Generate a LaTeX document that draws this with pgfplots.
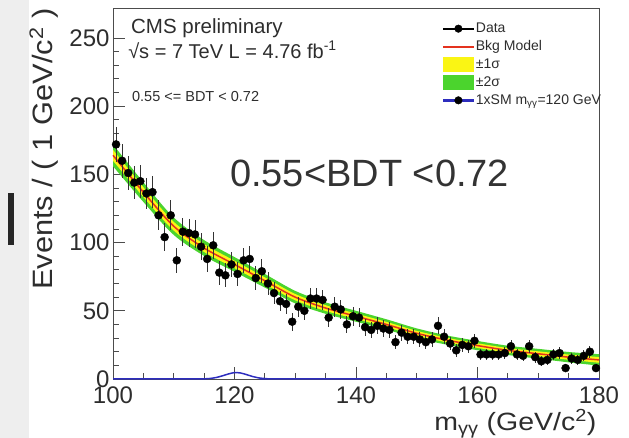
\documentclass[border=0pt]{standalone}
\usepackage{pgfplots}
\pgfplotsset{compat=1.18}
\usepackage{pgfplotstable}
\usepackage{graphicx}
\usepgfplotslibrary{fillbetween}
\usepackage{fontspec}
\setmainfont{Liberation Sans}
\definecolor{grn}{RGB}{75,212,45}
\definecolor{ylw}{RGB}{250,245,20}
\definecolor{bkgred}{RGB}{228,50,30}
\definecolor{sigblue}{RGB}{45,45,190}
\definecolor{txt}{RGB}{45,45,45}

\pgfplotstableread{
x y ey
100.5 172 13.1
101.5 160 12.6
102.5 151 12.3
103.5 144 12.0
104.5 145 12.0
105.5 136 11.7
106.5 137 11.7
107.5 120 11.0
108.5 104 10.2
109.5 120 11.0
110.5 87 9.3
111.5 108 10.4
112.5 107 10.3
113.5 106 10.3
114.5 97 9.8
115.5 88 9.4
116.5 98 9.9
117.5 78 8.8
118.5 76 8.7
119.5 84 9.2
120.5 77 8.8
121.5 87 9.3
122.5 88 9.4
123.5 74 8.6
124.5 79 8.9
125.5 70 8.4
126.5 63 7.9
127.5 57 7.5
128.5 55 7.4
129.5 42 6.5
130.5 53 7.3
131.5 50 7.1
132.5 59 7.7
133.5 59 7.7
134.5 58 7.6
135.5 45 6.7
136.5 53 7.3
137.5 51 7.1
138.5 40 6.3
139.5 46 6.8
140.5 45 6.7
141.5 38 6.2
142.5 36 6.0
143.5 39 6.2
144.5 37 6.1
145.5 36 6.0
146.5 27 5.2
147.5 34 5.8
148.5 31 5.6
149.5 31 5.6
150.5 29 5.4
151.5 27 5.2
152.5 29 5.4
153.5 39 6.2
154.5 31 5.6
155.5 26 5.1
156.5 21 4.6
157.5 25 5.0
158.5 24 4.9
159.5 28 5.3
160.5 18 4.2
161.5 18 4.2
162.5 18 4.2
163.5 18 4.2
164.5 19 4.4
165.5 24 4.9
166.5 18 4.2
167.5 17 4.1
168.5 24 4.9
169.5 16 4.0
170.5 13 3.6
171.5 14 3.7
172.5 18 4.2
173.5 19 4.4
174.5 8 2.8
175.5 15 3.9
176.5 14 3.7
177.5 17 4.1
178.5 20 4.5
179.5 8 2.8
}\datatab

\pgfplotstableread{
x lotwo loone fit hione hitwo
100 156 160 164 168 172
105 129.8 133.4 137 140.6 144.2
110 105.6 108.8 112 115.2 118.4
115 90.2 93.1 96 98.9 101.8
120 78.6 81.3 84 86.7 89.4
125 67 69.5 72 74.5 77
130 55.4 57.7 60 62.3 64.6
135 47.8 49.9 52 54.1 56.2
140 42 44 46 48 50
145 36.2 38.1 40 41.9 43.8
150 29.9 31.7 33.5 35.3 37.1
155 25.1 26.8 28.5 30.2 31.9
160 21.1 22.8 24.5 26.2 27.9
165 17.6 19.3 21 22.7 24.4
170 14.9 16.7 18.5 20.3 22.1
175 12.2 14.1 16 17.9 19.8
180 9.8 11.9 14 16.1 18.2
}\fittab

\pgfplotstableread{
x y
100 0
113 0
114 0.02
115 0.1
116 0.4
117 1.1
118 2.3
119 3.7
120 4.7
121 4.4
122 3.2
123 1.8
124 0.8
125 0.3
126 0.05
127 0
180 0
}\sigtab

\begin{document}
\begin{tikzpicture}
\fill[gray!13] (-113pt,-59pt) rectangle (-84pt,379pt);
\fill[black!85] (-105pt,134pt) rectangle (-99pt,186pt);
\begin{axis}[
  at={(0pt,0pt)}, anchor=south west,
  scale only axis, width=486pt, height=371pt,
  xmin=100, xmax=180, ymin=0, ymax=272,
  clip=false,
  axis line style={black!70, line width=0.9pt},
  tick style={black!70, line width=0.9pt},
  tick align=inside, tick pos=left,
  xtick={100,120,...,180}, minor x tick num=3,
  ytick={0,50,...,250}, minor y tick num=4,
  major tick length=12pt, minor tick length=6pt,
  ticklabel style={font=\fontsize{24}{24}\selectfont, text=txt},
  xticklabel style={yshift=-4pt},
  /pgf/number format/assume math mode=true,
  xlabel={\scalebox{1.14}[1]{m\textsubscript{γγ} (GeV/c\textsuperscript{2})}},
  xlabel style={at={(axis description cs:1,0)}, anchor=north east, yshift=-27pt, xshift=1pt, font=\fontsize{25}{25}\selectfont, text=txt},
  ylabel={\scalebox{1.1}[1]{Events / ( 1 GeV/c\textsuperscript{2} )}},
  ylabel style={at={(axis description cs:-0.106,1.008)}, anchor=south east, font=\fontsize{28}{28}\selectfont, text=txt},
  legend style={draw=none, fill=none, inner sep=0pt, at={(axis description cs:0.679,0.966)}, anchor=north west, font=\fontsize{14}{16}\selectfont, text=txt, row sep=2pt, nodes={inner sep=2.3pt}},
  legend cell align=left,
]
\addlegendimage{legend image code/.code={\fill[black] (0pt,-0.45pt) rectangle (30pt,0.45pt); \fill[black] (15pt,0pt) circle (3.8pt);}}
\addlegendentry{Data}
\addlegendimage{legend image code/.code={\fill[bkgred] (0pt,-0.9pt) rectangle (30pt,0.9pt);}}
\addlegendentry{Bkg Model}
\addlegendimage{legend image code/.code={\fill[ylw] (0pt,-7pt) rectangle (30pt,7pt);}}
\addlegendentry{±1σ}
\addlegendimage{legend image code/.code={\fill[grn] (0pt,-7pt) rectangle (30pt,7pt);}}
\addlegendentry{±2σ}
\addlegendimage{legend image code/.code={\fill[sigblue] (0pt,-0.9pt) rectangle (30pt,0.9pt); \fill[black] (15pt,0pt) circle (3.8pt);}}
\addlegendentry{1xSM m\textsubscript{γγ}=120 GeV}

\addplot[name path=htwo, draw=none, smooth, forget plot] table[x=x, y=hitwo] {\fittab};
\addplot[name path=ltwo, draw=none, smooth, forget plot] table[x=x, y=lotwo] {\fittab};
\addplot[name path=hone, draw=none, smooth, forget plot] table[x=x, y=hione] {\fittab};
\addplot[name path=lone, draw=none, smooth, forget plot] table[x=x, y=loone] {\fittab};
\addplot[grn, forget plot] fill between[of=htwo and ltwo];
\addplot[ylw, forget plot] fill between[of=hone and lone];
\addplot[bkgred, line width=1.5pt, smooth, forget plot] table[x=x, y=fit] {\fittab};
\addplot[sigblue, line width=1.5pt, smooth, tension=0.4, forget plot] table[x=x, y=y] {\sigtab};
\addplot[only marks, mark=*, mark size=4pt, black, forget plot,
  error bars/.cd, y dir=both, y explicit, x dir=both, x fixed=0.5,
  error mark=none, error bar style={line width=0.8pt, black!80}]
  table[x=x, y=y, y error=ey] {\datatab};

\node[anchor=west, inner sep=0pt, font=\fontsize{20.5}{21}\selectfont, text=txt] at (axis description cs:0.037,0.945) {CMS preliminary};
\node[anchor=west, inner sep=0pt, font=\fontsize{20}{21}\selectfont, text=txt] at (axis description cs:0.031,0.887) {√s = 7 TeV L = 4.76 fb\textsuperscript{-1}};
\node[anchor=west, inner sep=0pt, font=\fontsize{14.5}{15}\selectfont, text=txt] at (axis description cs:0.039,0.761) {0.55 <= BDT < 0.72};
\node[anchor=center, inner sep=0pt, font=\fontsize{38}{40}\selectfont, text=black!80] at (axis description cs:0.528,0.554) {0.55<BDT <0.72};
\end{axis}
\pgfresetboundingbox
\path[use as bounding box] (-113pt,-59pt) rectangle (516pt,379pt);
\end{tikzpicture}
\end{document}
